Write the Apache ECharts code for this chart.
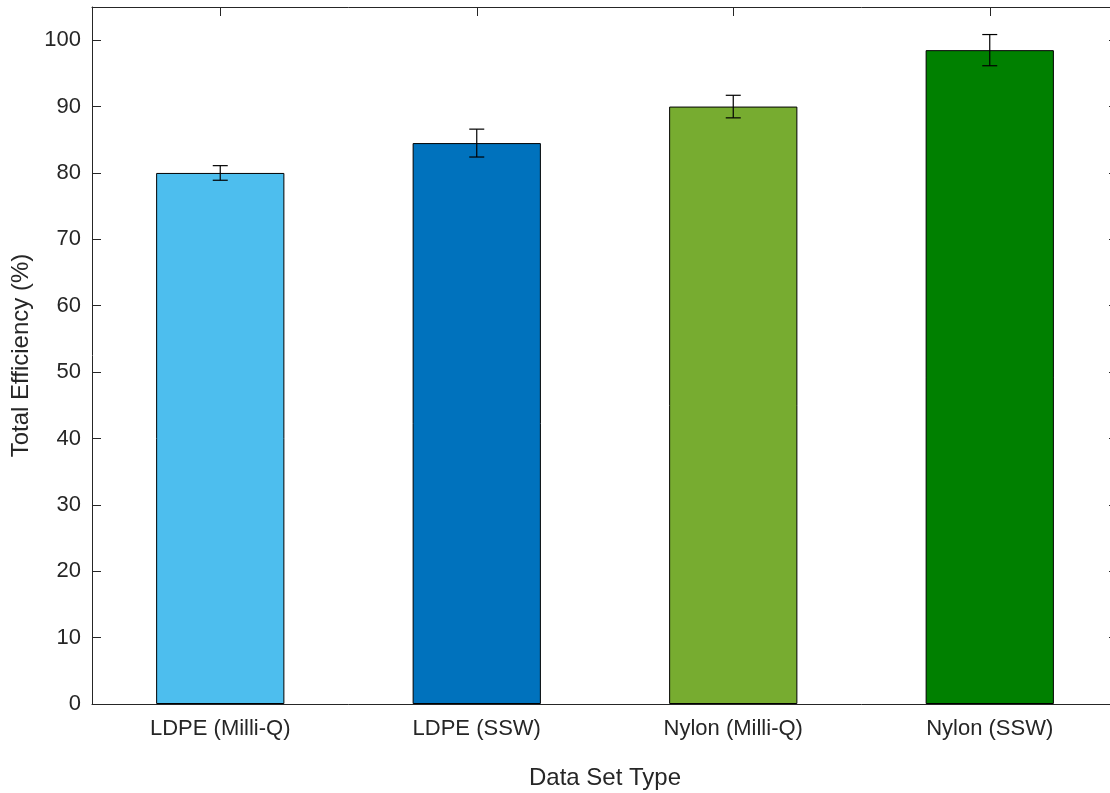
<!DOCTYPE html>
<html>
<head>
<meta charset="utf-8">
<script src="https://cdn.jsdelivr.net/npm/echarts@6/dist/echarts.min.js"></script>
<style>html,body{margin:0;padding:0;background:#fff;overflow:hidden;width:1110px;height:793px}#c{width:1120px;height:793px}</style>
</head>
<body>
<div id="c"></div>
<script>
const categories = ['LDPE (Milli-Q)', 'LDPE (SSW)', 'Nylon (Milli-Q)', 'Nylon (SSW)'];
const values = [80.0, 84.5, 90.0, 98.5];
const errors = [1.1, 2.1, 1.7, 2.35];
const colors = ['#4DBEEE', '#0072BD', '#77AC30', '#008000'];
const yTicks = [0, 10, 20, 30, 40, 50, 60, 70, 80, 90, 100];

const font = "'Liberation Sans', Arial, Helvetica, sans-serif";
const txt = '#262626';

const chart = echarts.init(document.getElementById('c'), null, {renderer: 'canvas'});
const option = {
  animation: false,
  backgroundColor: '#fff',
  grid: {left: 92, top: 7, width: 1026, height: 697, containLabel: false, outerBoundsMode: 'none'},
  xAxis: [{
    type: 'category', data: categories, position: 'bottom', z: 5,
    name: 'Data Set Type', nameLocation: 'middle', nameGap: 62,
    nameTextStyle: {fontFamily: font, fontSize: 24, color: txt},
    axisLine: {onZero: false, lineStyle: {color: txt, width: 1}},
    axisTick: {inside: true, alignWithLabel: true, length: 9, lineStyle: {color: txt}},
    axisLabel: {fontFamily: font, fontSize: 22, color: txt, margin: 14},
    splitLine: {show: false}
  }, {
    type: 'category', data: categories, position: 'top', z: 5,
    axisLine: {onZero: false, lineStyle: {color: txt, width: 1}},
    axisTick: {show: true, inside: true, alignWithLabel: true, interval: 0, length: 9, lineStyle: {color: txt}},
    axisLabel: {show: true, interval: 0, fontSize: 10, color: 'rgba(0,0,0,0)'}, splitLine: {show: false}
  }],
  yAxis: [{
    type: 'value', min: 0, max: 105, interval: 10, position: 'left', z: 5,
    name: 'Total Efficiency (%)', nameLocation: 'middle', nameGap: 57,
    nameTextStyle: {fontFamily: font, fontSize: 24, color: txt},
    axisLine: {show: true, onZero: false, lineStyle: {color: txt, width: 1}},
    axisTick: {show: true, inside: true, length: 9, lineStyle: {color: txt}},
    axisLabel: {fontFamily: font, fontSize: 22, color: txt, margin: 11, showMaxLabel: false,
      formatter: v => yTicks.indexOf(v) >= 0 ? String(v) : ''},
    splitLine: {show: false}
  }, {
    type: 'value', min: 0, max: 105, interval: 10, position: 'right', z: 5,
    axisLine: {show: true, onZero: false, lineStyle: {color: txt, width: 1}},
    axisTick: {show: true, inside: true, length: 9, lineStyle: {color: txt}},
    axisLabel: {show: false}, splitLine: {show: false}
  }],
  series: [{
    type: 'bar', xAxisIndex: 0, yAxisIndex: 0, barWidth: '50%',
    data: values.map((v, i) => ({value: v, itemStyle: {color: colors[i]}})),
    itemStyle: {borderColor: '#000', borderWidth: 1}
  }, {
    type: 'custom', xAxisIndex: 0, yAxisIndex: 0, z: 10,
    data: values.map((v, i) => [i, v - errors[i], v + errors[i]]),
    renderItem: function (params, api) {
      const lo = api.coord([api.value(0), api.value(1)]);
      const hi = api.coord([api.value(0), api.value(2)]);
      const x = lo[0], hw = 7.5;
      const st = {stroke: '#000', lineWidth: 1.2};
      return {type: 'group', children: [
        {type: 'line', shape: {x1: x, y1: lo[1], x2: x, y2: hi[1]}, style: st},
        {type: 'line', shape: {x1: x - hw, y1: lo[1], x2: x + hw, y2: lo[1]}, style: st},
        {type: 'line', shape: {x1: x - hw, y1: hi[1], x2: x + hw, y2: hi[1]}, style: st}
      ]};
    }
  }]
};
chart.setOption(option);
</script>
</body>
</html>
